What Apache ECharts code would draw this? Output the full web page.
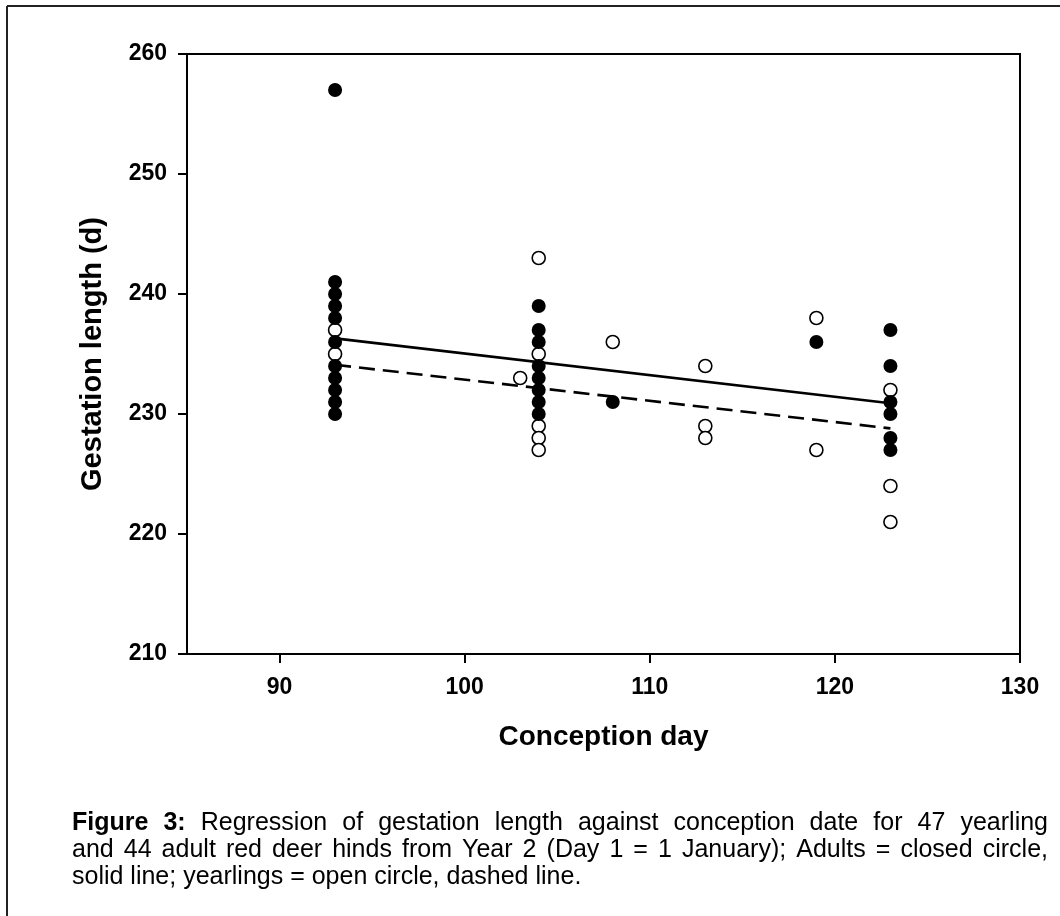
<!DOCTYPE html>
<html>
<head>
<meta charset="utf-8">
<script src="https://cdn.jsdelivr.net/npm/echarts@6/dist/echarts.min.js"></script>
<style>
html,body{margin:0;padding:0;background:#fff;}
#chart{width:1060px;height:916px;}
</style>
</head>
<body>
<div id="chart"></div>
<script>
// ---- data ----
const adultDay  = [93,93,93,93,93,93,93,93,93,93,93, 104,104,104,104,104,104,104,104, 108, 119, 123,123,123,123,123,123];
const adultGest = [257,241,240,239,238,236,234,233,232,231,230, 239,237,236,234,233,232,231,230, 231, 236, 237,234,231,230,228,227];
const yearlingDay  = [93,93, 103, 104,104,104,104,104, 108, 113,113,113, 119,119, 123,123,123];
const yearlingGest = [237,235, 233, 243,235,229,228,227, 236, 234,229,228, 238,227, 232,224,221];
const adultFitDay = [93, 123];
const adultFitGest = [236.3, 230.9];
const yearlingFitDay = [93, 123];
const yearlingFitGest = [234.1, 228.8];
const xTicks = [90, 100, 110, 120, 130];
const yTicks = [210, 220, 230, 240, 250, 260];
const xTitle = 'Conception day';
const yTitle = 'Gestation length (d)';
const captionLines = [
  [['Figure', true], ['3:', true], ['Regression', false], ['of', false], ['gestation', false], ['length', false], ['against', false], ['conception', false], ['date', false], ['for', false], ['47', false], ['yearling', false]],
  [['and', false], ['44', false], ['adult', false], ['red', false], ['deer', false], ['hinds', false], ['from', false], ['Year', false], ['2', false], ['(Day', false], ['1', false], ['=', false], ['1', false], ['January);', false], ['Adults', false], ['=', false], ['closed', false], ['circle,', false]],
  [['solid', false], ['line;', false], ['yearlings', false], ['=', false], ['open', false], ['circle,', false], ['dashed', false], ['line.', false]]
];

const zip = (a, b) => a.map((v, i) => [v, b[i]]);

// ---- caption layout ----
const FONT = '"Liberation Sans", Arial, Helvetica, sans-serif';
const capSize = 25;
const mctx = document.createElement('canvas').getContext('2d');
function measure(t, bold) {
  mctx.font = (bold ? 'bold ' : '') + capSize + 'px ' + FONT;
  return mctx.measureText(t).width;
}
const capX0 = 72, capX1 = 1048;
const capY = [823, 850, 877];
const captionEls = [];
captionLines.forEach((words, li) => {
  const widths = words.map(w => measure(w[0], w[1]));
  const total = widths.reduce((a, b) => a + b, 0);
  const justify = li < captionLines.length - 1;
  const gap = justify ? (capX1 - capX0 - total) / (words.length - 1) : measure(' ', false);
  let x = capX0;
  words.forEach((w, i) => {
    captionEls.push({
      type: 'text', x: x, y: capY[li],
      style: { text: w[0], fontFamily: FONT, fontSize: capSize, fontWeight: w[1] ? 'bold' : 'normal', fill: '#000', verticalAlign: 'middle', align: 'left' }
    });
    x += widths[i] + gap;
  });
});

const chart = echarts.init(document.getElementById('chart'), null, { renderer: 'canvas' });
chart.setOption({
  animation: false,
  backgroundColor: '#fff',
  grid: { left: 187, top: 54, width: 833, height: 600, show: true, borderColor: '#000', borderWidth: 2, backgroundColor: 'transparent', containLabel: false },
  xAxis: {
    type: 'value', min: 85, max: 130,
    name: xTitle, nameLocation: 'middle', nameGap: 69,
    nameTextStyle: { fontFamily: FONT, fontSize: 28, fontWeight: 'bold', color: '#000' },
    axisLine: { show: true, onZero: false, lineStyle: { color: '#000', width: 2 } },
    axisTick: { show: true, inside: false, length: 9, lineStyle: { color: '#000', width: 2 }, customValues: xTicks },
    axisLabel: { fontFamily: FONT, fontSize: 23, fontWeight: 'bold', color: '#000', margin: 22, customValues: xTicks },
    splitLine: { show: false }
  },
  yAxis: {
    type: 'value', min: 210, max: 260, interval: 10,
    name: yTitle, nameLocation: 'middle', nameGap: 80, nameRotate: 90,
    nameTextStyle: { fontFamily: FONT, fontSize: 29, fontWeight: 'bold', color: '#000' },
    axisLine: { show: true, onZero: false, lineStyle: { color: '#000', width: 2 } },
    axisTick: { show: true, inside: false, length: 9, lineStyle: { color: '#000', width: 2 } },
    axisLabel: { fontFamily: FONT, fontSize: 23, fontWeight: 'bold', color: '#000', margin: 20, customValues: yTicks },
    splitLine: { show: false }
  },
  graphic: [
    { type: 'line', shape: { x1: 7, y1: 6, x2: 1060, y2: 6 }, style: { stroke: '#222', lineWidth: 2 } },
    { type: 'line', shape: { x1: 7, y1: 6, x2: 7, y2: 916 }, style: { stroke: '#222', lineWidth: 2 } }
  ].concat(captionEls),
  series: [
    { type: 'line', data: zip(adultFitDay, adultFitGest), showSymbol: false, symbol: 'none', z: 2,
      lineStyle: { color: '#000', width: 2.6, type: 'solid' } },
    { type: 'line', data: zip(yearlingFitDay, yearlingFitGest), showSymbol: false, symbol: 'none', z: 2,
      lineStyle: { color: '#000', width: 2.6, type: [16, 8] } },
    { type: 'scatter', data: zip(yearlingDay, yearlingGest), symbol: 'circle', symbolSize: 13, z: 3,
      itemStyle: { color: '#fff', borderColor: '#000', borderWidth: 1.6, opacity: 1 } },
    { type: 'scatter', data: zip(adultDay, adultGest), symbol: 'circle', symbolSize: 14, z: 4,
      itemStyle: { color: '#000', opacity: 1 } }
  ]
});
</script>
</body>
</html>
